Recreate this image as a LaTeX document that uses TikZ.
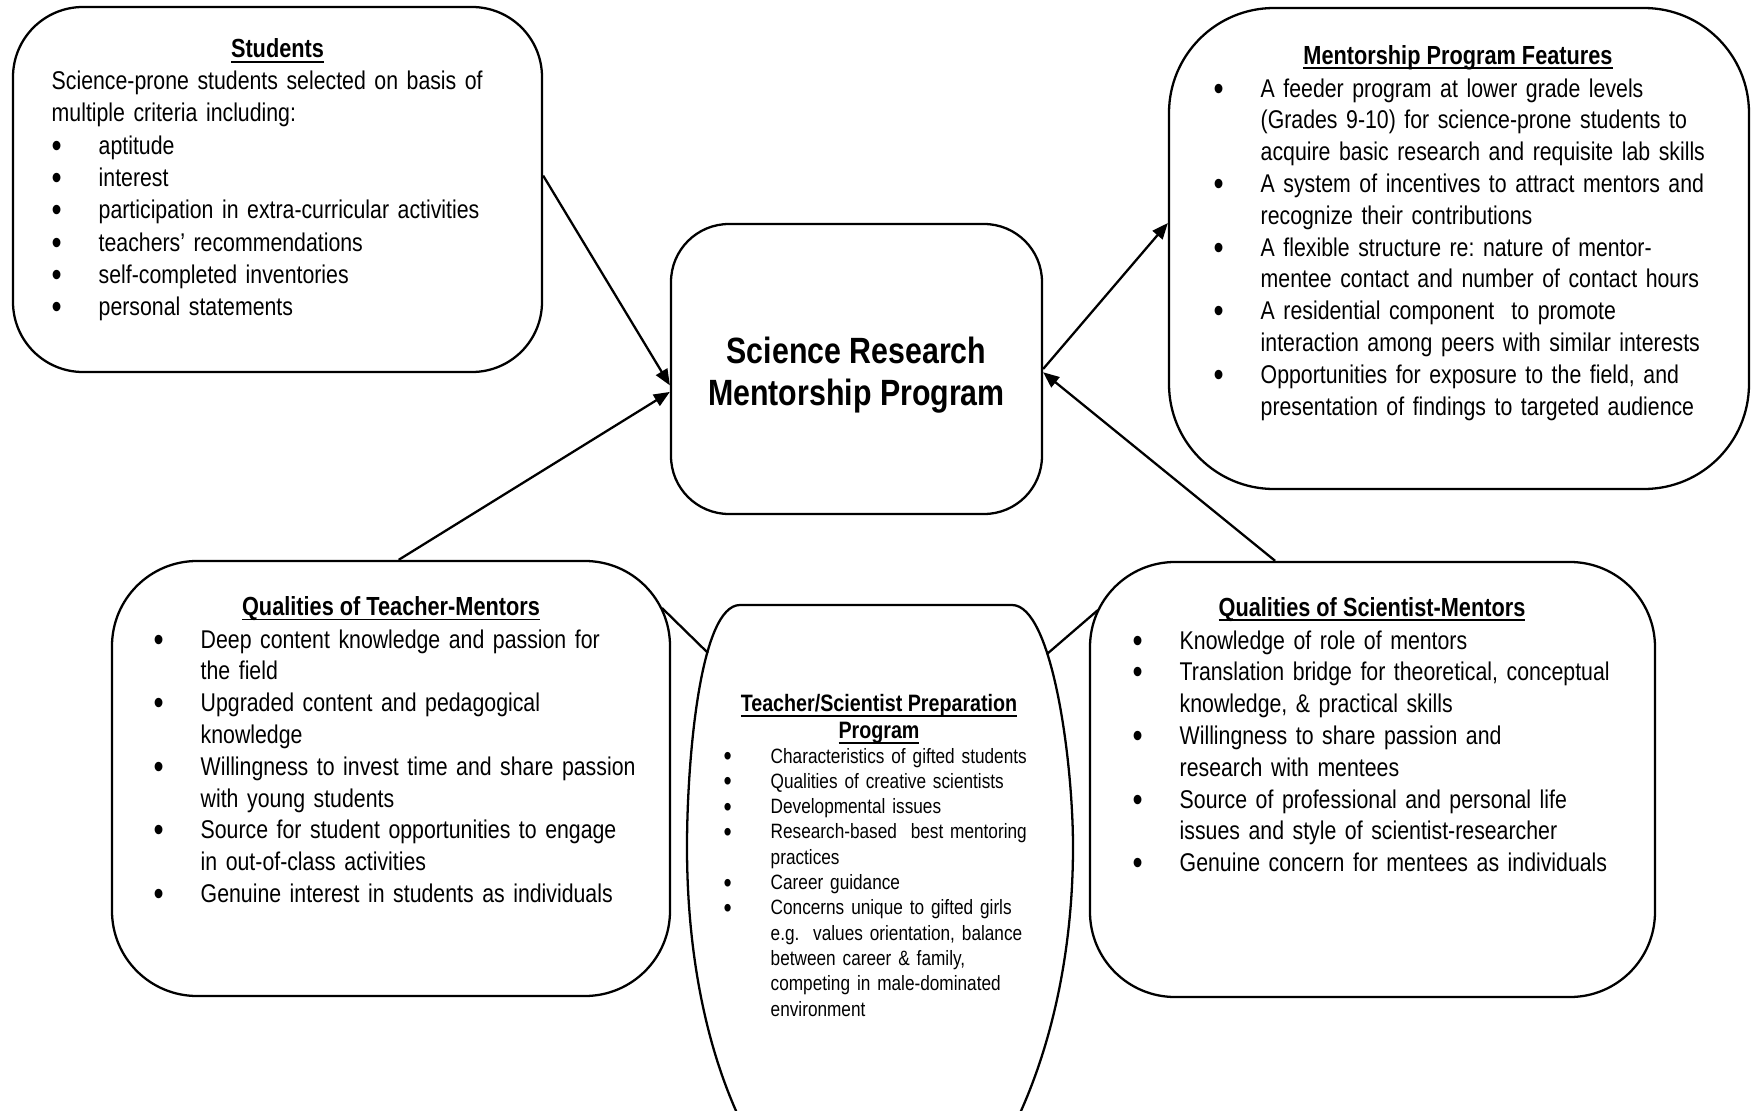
\documentclass[tikz,border=0pt]{standalone}
\usepackage{fontspec}
\setmainfont{Liberation Sans}[FakeStretch=0.83]
\usetikzlibrary{arrows.meta}
\newcommand{\bitem}[1]{\hangindent=0.47cm\hangafter=1\noindent\makebox[0.47cm][l]{\raisebox{-0.12em}{\scalebox{1.35}{\textbullet}}}#1\par}
\newcommand{\ulhead}[1]{\setbox0=\hbox{#1}\rlap{\rule[-1.4pt]{\wd0}{0.5pt}}\box0}

\begin{document}
\frenchspacing
\begin{tikzpicture}[x=1cm,y=1cm,
  panel/.style={draw,line width=0.65pt,inner sep=0pt},
  head/.style={font=\fontsize{7.45}{9.05}\selectfont\bfseries,anchor=base,inner sep=0pt},
  items/.style={font=\fontsize{7.3}{9.05}\selectfont,anchor=base west,text width=5.2cm,align=left,inner sep=0pt},
  link/.style={line width=0.65pt},
  arr/.style={link,-{Triangle[length=0.16cm,width=0.13cm]}}]
\useasboundingbox (0,0) rectangle (17.51,11.10);
\clip (0,0) rectangle (17.51,11.10);

\node[panel,rounded corners=0.7cm,minimum width=5.29cm,minimum height=3.65cm] (stud) at (2.775,9.205) {};
\node[panel,rounded corners=0.58cm,minimum width=3.71cm,minimum height=2.90cm] (srmp) at (8.565,7.41) {};
\node[panel,rounded corners=1.05cm,minimum width=5.80cm,minimum height=4.81cm] (feat) at (14.59,8.615) {};
\node[panel,rounded corners=0.85cm,minimum width=5.58cm,minimum height=4.35cm] (teach) at (3.91,3.315) {};
\node[panel,rounded corners=0.85cm,minimum width=5.65cm,minimum height=4.35cm] (sci) at (13.725,3.305) {};

\draw[link] (7.40,5.05) -- (10.12,5.05) .. controls (10.52,5.05) and (10.73,3.5) .. (10.73,2.63)
  .. controls (10.73,1.6) and (10.52,0.6) .. (10.12,-0.2)
  .. controls (9.8,-0.8) and (7.8,-0.8) .. (7.45,-0.2)
  .. controls (7.05,0.6) and (6.87,1.6) .. (6.87,2.63)
  .. controls (6.87,3.5) and (7.0,5.05) .. (7.40,5.05);

\node[align=center,inner sep=0pt,font=\fontsize{10.4}{12}\selectfont\bfseries] (srmptext) at (8.565,7.35)
  {Science Research\\Mentorship Program};

\node[head] (studhead) at (2.775,10.52) {\ulhead{Students}};
\node[items,font=\fontsize{7.3}{9.2}\selectfont] (studlist) at (0.51,10.205) {%
  Science-prone students selected on basis of\newline multiple criteria including:\par
  \bitem{aptitude}
  \bitem{interest}
  \bitem{participation in extra-curricular activities}
  \bitem{teachers’ recommendations}
  \bitem{self-completed inventories}
  \bitem{personal statements}};

\node[head] (feathead) at (14.58,10.46) {\ulhead{Mentorship Program Features}};
\node[items] (featlist) at (12.13,10.13) {%
  \bitem{A feeder program at lower grade levels\newline (Grades 9-10) for science-prone students to\newline acquire basic research and requisite lab skills}
  \bitem{A system of incentives to attract mentors and\newline recognize their contributions}
  \bitem{A flexible structure re: nature of mentor-\newline mentee contact and number of contact hours}
  \bitem{A residential component\ \ to promote\newline interaction among peers with similar interests}
  \bitem{Opportunities for exposure to the field, and\newline presentation of findings to targeted audience}};

\node[head] (teachhead) at (3.91,4.945) {\ulhead{Qualities of Teacher-Mentors}};
\node[items] (teachlist) at (1.53,4.62) {%
  \bitem{Deep content knowledge and passion for\newline the field}
  \bitem{Upgraded content and pedagogical\newline knowledge}
  \bitem{Willingness to invest time and share passion\newline with young students}
  \bitem{Source for student opportunities to engage\newline in out-of-class activities}
  \bitem{Genuine interest in students as individuals}};

\node[head] (scihead) at (13.72,4.94) {\ulhead{Qualities of Scientist-Mentors}};
\node[items] (scilist) at (11.32,4.61) {%
  \bitem{Knowledge of role of mentors}
  \bitem{Translation bridge for theoretical, conceptual\newline knowledge, \& practical skills}
  \bitem{Willingness to share passion and\newline research with mentees}
  \bitem{Source of professional and personal life\newline issues and style of scientist-researcher}
  \bitem{Genuine concern for mentees as individuals}};

\node[head,anchor=north,align=center,font=\fontsize{6.75}{7.6}\selectfont\bfseries] (prephead) at (8.79,4.16)
  {\ulhead{Teacher/Scientist Preparation}\\\ulhead{Program}};
\node[items,font=\fontsize{5.9}{7.2}\selectfont] (preplist) at (7.23,3.47) {%
  \bitem{Characteristics of gifted students}
  \bitem{Qualities of creative scientists}
  \bitem{Developmental issues}
  \bitem{Research-based\ \ best mentoring\newline practices}
  \bitem{Career guidance}
  \bitem{Concerns unique to gifted girls\newline e.g.\ \ values orientation, balance\newline between career \& family,\newline competing in male-dominated\newline environment}};

\coordinate (tq) at (6.62,5.02);
\coordinate (pl) at (7.08,4.57);
\coordinate (sq) at (10.98,5.00);
\coordinate (pr) at (10.47,4.56);
\draw[link] (tq) -- (pl);
\draw[link] (sq) -- (pr);

\draw[arr] (stud.3) -- (srmp.185);
\draw[arr] (teach.88) -- (srmp.187);
\draw[arr] (srmp.0) -- (feat.175);
\draw[arr] (sci.114) -- (srmp.359);
\end{tikzpicture}
\end{document}
